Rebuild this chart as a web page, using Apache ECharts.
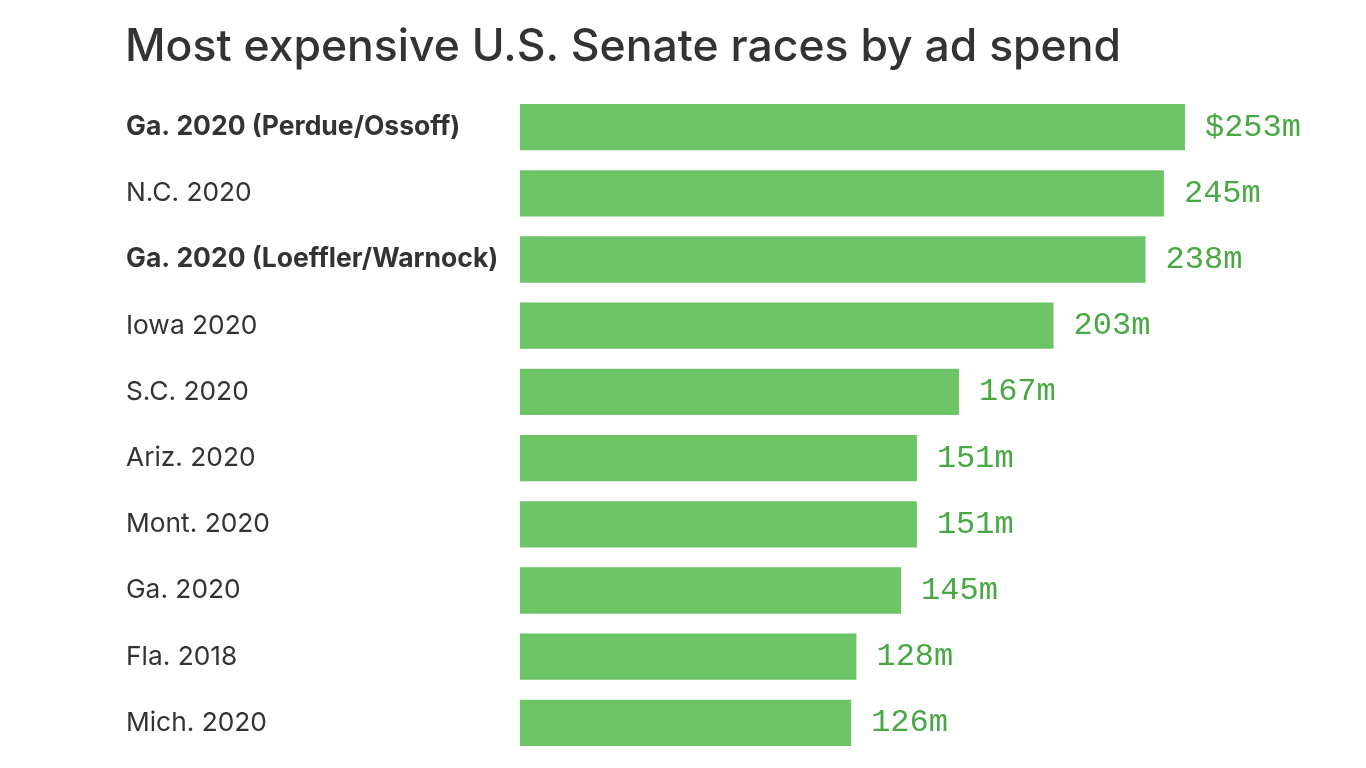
<!DOCTYPE html>
<html><head><meta charset="utf-8">
<script src="https://cdn.jsdelivr.net/npm/echarts@6/dist/echarts.min.js"></script>
<style>html,body{margin:0;padding:0;background:#fff}#c{width:1366px;height:768px}</style>
</head><body><div id="c"></div>
<script>
const categories = ["Ga. 2020 (Perdue/Ossoff)","N.C. 2020","Ga. 2020 (Loeffler/Warnock)","Iowa 2020","S.C. 2020","Ariz. 2020","Mont. 2020","Ga. 2020","Fla. 2018","Mich. 2020"];
const values = [253,245,238,203,167,151,151,145,128,126];
const boldCategories = ["Ga. 2020 (Perdue/Ossoff)","Ga. 2020 (Loeffler/Warnock)"];
const title = "Most expensive U.S. Senate races by ad spend";

const chart = echarts.init(document.getElementById('c'));
chart.setOption({
  animation:false,
  title:{text:title,left:120,top:20,textStyle:{fontFamily:'Inter',fontSize:44.5,fontWeight:500,color:'#333'}},
  grid:{left:520,top:94,bottom:12,right:57.5},
  xAxis:{type:'value',min:0,max:300,show:false},
  yAxis:{type:'category',data:categories,inverse:true,
    axisLine:{show:false},axisTick:{show:false},
    axisLabel:{margin:394,align:'left',
      formatter:(v)=>boldCategories.includes(v)?'{b|'+v+'}':'{n|'+v+'}',
      rich:{
        b:{fontFamily:'Inter',fontSize:26.5,fontWeight:'bold',color:'#333'},
        n:{fontFamily:'Inter',fontSize:26.3,fontWeight:'normal',color:'#333'}
      }}},
  series:[{type:'bar',data:values,barCategoryGap:'30%',
    itemStyle:{color:'#6cc466'},
    label:{show:true,position:'right',distance:20,
      formatter:(p)=>(p.dataIndex===0?'$':'')+p.value+'m',
      fontFamily:'Liberation Mono',fontSize:32,color:'#48a844'}}]
});
</script></body></html>
